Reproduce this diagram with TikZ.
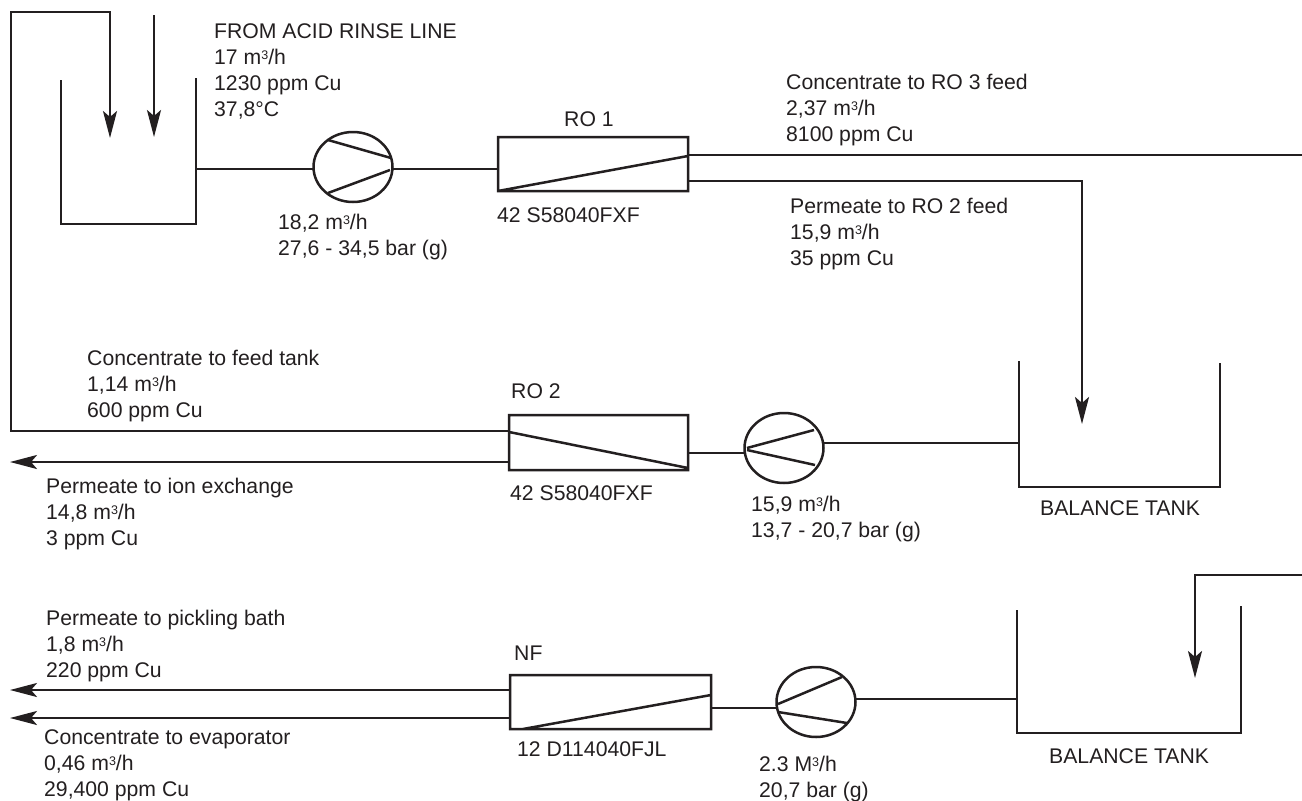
\documentclass[tikz,border=0pt]{standalone}
\usepackage{fontspec}
\setmainfont{Liberation Sans}
\usetikzlibrary{arrows.meta,shapes.geometric}
\definecolor{ink}{RGB}{35,31,32}
\tikzset{
 x=1pt,y=-1pt,
 pipe/.style={line width=2.5pt,draw=ink,line join=miter},
 flow/.style={pipe,-{Stealth[length=27pt,width=14pt,inset=6pt]}},
 pumpbody/.style={ellipse,draw=ink,line width=2.5pt,minimum width=79pt,minimum height=70pt,inner sep=0pt},
 lab/.style={anchor=north west,inner sep=0pt,align=left,font=\fontsize{21.2}{26}\selectfont,text=ink},
}
\newcommand{\supthree}{\raisebox{5pt}{\fontsize{12.5}{12.5}\selectfont 3}}
\newcommand{\cbm}{m\supthree/h}
\begin{document}
\begin{tikzpicture}
\useasboundingbox (0,0) rectangle (1302,801);
\fill[white] (0,0) rectangle (1302,801);
% tanks
\draw[pipe] (61,80) -- (61,224) -- (196,224) -- (196,78);
\draw[pipe] (1019,361) -- (1019,487) -- (1220,487) -- (1220,363);
\draw[pipe] (1017,610) -- (1017,733) -- (1241,733) -- (1241,606);
\coordinate (t1) at (196,169);
\coordinate (t2) at (1019,443);
\coordinate (t3) at (1017,699);
% pumps
\node[pumpbody] (p1) at (353,167) {};
\node[pumpbody] (p2) at (784,448) {};
\node[pumpbody] (p3) at (816,702) {};
\draw[pipe] (328,140) -- (391,158) (328,193) -- (390,170);
\draw[pipe] (747,448) -- (814,430) (747,450) -- (815,465);
\draw[pipe] (778,704) -- (842,677) (778,712) -- (847,723);
% membranes
\draw[pipe] (498,137) rectangle (688,191) (498,191) -- (688,156);
\draw[pipe] (509,415) rectangle (688,470) (509,432) -- (688,468);
\draw[pipe] (510,675) rectangle (711,729) (523,729) -- (711,695);
% connectors
\coordinate (a) at (11,431); \coordinate (b) at (11,12); \coordinate (c) at (110,12); \coordinate (d) at (110,138);
\draw[flow] (509,431) -- (a) -- (b) -- (c) -- (d);
\coordinate (e) at (154,15); \coordinate (f) at (154,137);
\draw[flow] (e) -- (f);
\draw[pipe] (t1) -- (314,169);
\draw[pipe] (392,169) -- (498,169);
\coordinate (g) at (1302,155);
\draw[pipe] (688,155) -- (g);
\coordinate (h) at (1082,181); \coordinate (i) at (1082,424);
\draw[flow] (688,181) -- (h) -- (i);
\draw[pipe] (t2) -- (823,443);
\draw[pipe] (688,453) -- (745,453);
\coordinate (j) at (10,462);
\draw[flow] (509,462) -- (j);
\coordinate (k) at (10,690); \coordinate (l) at (10,718);
\draw[flow] (510,690) -- (k);
\draw[flow] (510,718) -- (l);
\draw[pipe] (t3) -- (855,699);
\draw[pipe] (711,708) -- (776,708);
\coordinate (m) at (1302,575); \coordinate (n) at (1195,575); \coordinate (o) at (1195,678);
\draw[flow] (m) -- (n) -- (o);
% labels
\node[lab] (l1) at (214,23) {FROM ACID RINSE LINE\\17 \cbm\\1230 ppm Cu\\37,8°C};
\node[lab] (l2) at (278,214) {18,2 \cbm\\27,6 - 34,5 bar (g)};
\node[lab] (l3) at (564,111) {RO 1};
\node[lab] (l4) at (497,207) {42 S58040FXF};
\node[lab] (l5) at (786,74) {Concentrate to RO 3 feed\\2,37 \cbm\\8100 ppm Cu};
\node[lab] (l6) at (790,198) {Permeate to RO 2 feed\\15,9 \cbm\\35 ppm Cu};
\node[lab] (l7) at (87,350) {Concentrate to feed tank\\1,14 \cbm\\600 ppm Cu};
\node[lab] (l8) at (511,383) {RO 2};
\node[lab] (l9) at (510,485) {42 S58040FXF};
\node[lab] (l10) at (46,478) {Permeate to ion exchange\\14,8 \cbm\\3 ppm Cu};
\node[lab] (l11) at (751,496) {15,9 \cbm\\13,7 - 20,7 bar (g)};
\node[lab] (l12) at (1040,500) {BALANCE TANK};
\node[lab] (l13) at (46,610) {Permeate to pickling bath\\1,8 \cbm\\220 ppm Cu};
\node[lab] (l14) at (514,646) {NF};
\node[lab] (l15) at (517,741) {12 D114040FJL};
\node[lab] (l16) at (44,729) {Concentrate to evaporator\\0,46 \cbm\\29,400 ppm Cu};
\node[lab] (l17) at (759,756) {2.3 M\supthree/h\\20,7 bar (g)};
\node[lab] (l18) at (1049,748) {BALANCE TANK};
\end{tikzpicture}
\end{document}
